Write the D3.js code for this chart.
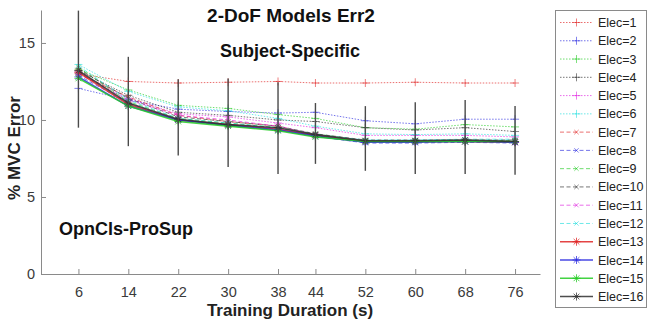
<!DOCTYPE html>
<html>
<head>
<meta charset="utf-8">
<script src="https://d3js.org/d3.v7.min.js"></script>
<style>
  body { margin: 0; background: #fff; }
  svg { font-family: "Liberation Sans", Arial, sans-serif; }
</style>
</head>
<body>
<svg width="648" height="320"></svg>
<script>
    var width = 648, height = 320;
    var margin = {top: 10, right: 108, bottom: 46, left: 41};

    // training durations (s)
    const durations = [6, 14, 22, 30, 38, 44, 52, 60, 68, 76];
    const yTicks = [0, 5, 10, 15];

    // % MVC error, one row per electrode count
    const elec1  = [13.0, 12.5, 12.4, 12.45, 12.5, 12.4, 12.4, 12.45, 12.4, 12.4];
    const elec2  = [12.05, 11.3, 10.7, 10.55, 10.45, 10.5, 9.95, 9.75, 10.05, 10.05];
    const elec3  = [13.3, 11.95, 10.95, 10.75, 10.35, 10.1, 9.5, 9.4, 9.7, 9.55];
    const elec4  = [13.2, 11.6, 10.5, 10.3, 10.0, 9.9, 9.5, 9.35, 9.5, 9.25];
    const elec5  = [13.1, 11.4, 10.4, 10.2, 9.8, 9.5, 9.0, 9.0, 9.0, 8.9];
    const elec6  = [13.6, 11.85, 10.85, 10.6, 10.1, 9.6, 9.1, 9.05, 9.1, 9.0];
    const elec7  = [13.0, 11.5, 10.3, 9.9, 9.6, 9.0, 8.6, 8.55, 8.6, 8.55];
    const elec8  = [12.9, 11.1, 10.0, 9.7, 9.4, 8.95, 8.5, 8.5, 8.55, 8.5];
    const elec9  = [13.4, 11.2, 10.1, 9.8, 9.5, 9.1, 8.65, 8.65, 8.7, 8.65];
    const elec10 = [13.3, 11.4, 10.2, 9.9, 9.6, 9.1, 8.7, 8.7, 8.7, 8.7];
    const elec11 = [13.0, 11.3, 10.3, 10.0, 9.6, 9.05, 8.6, 8.6, 8.65, 8.6];
    const elec12 = [13.5, 11.3, 10.1, 9.8, 9.5, 9.05, 8.7, 8.7, 8.75, 8.75];
    const elec13 = [13.1, 11.0, 10.0, 9.7, 9.4, 9.0, 8.6, 8.6, 8.6, 8.55];
    const elec14 = [12.8, 10.9, 10.0, 9.65, 9.35, 8.95, 8.55, 8.55, 8.6, 8.55];
    const elec15 = [12.7, 10.9, 9.9, 9.6, 9.3, 8.9, 8.6, 8.6, 8.6, 8.6];
    const elec16 = [13.2, 11.1, 10.05, 9.7, 9.5, 9.05, 8.65, 8.65, 8.7, 8.6];

    // error bar ends
    const errLow  = [9.5, 8.3, 7.7, 6.95, 6.5, 7.15, 6.7, 6.5, 6.5, 6.45];
    const errHigh = [17.1, 14.1, 12.65, 12.7, 12.45, 11.1, 10.9, 11.15, 11.3, 10.9];

    const seriesValues = [elec1, elec2, elec3, elec4, elec5, elec6, elec7, elec8,
        elec9, elec10, elec11, elec12, elec13, elec14, elec15, elec16];
    const seriesNames = seriesValues.map((d, i) => 'Elec=' + (i + 1));

    var colors = ['#e02424', '#2a2ae0', '#22cc22', '#303030', '#e022e0', '#22dede'];

    var series = seriesValues.map((vals, i) => ({
        name: seriesNames[i],
        values: vals,
        color: colors[i % 6],
        dash: i < 6 ? '1.5,1.5' : (i < 12 ? '4,2.5' : null),
        marker: i < 6 ? 'plus' : (i < 12 ? 'cross' : 'star'),
        lw: i < 12 ? 1 : 1.6,
        op: i < 12 ? 0.65 : 0.85
    }));

    function markerPath(type, s) {
        var p = d3.path();
        if (type == 'plus' || type == 'star') {
            p.moveTo(-s, 0); p.lineTo(s, 0);
            p.moveTo(0, -s); p.lineTo(0, s);
        }
        if (type == 'cross' || type == 'star') {
            var c = s * 0.72;
            p.moveTo(-c, -c); p.lineTo(c, c);
            p.moveTo(-c, c); p.lineTo(c, -c);
        }
        return p.toString();
    }

    var x = d3.scaleLinear().domain([0, 80]).range([margin.left, 540]);
    var y = d3.scaleLinear().domain([0, 17.14]).range([274, margin.top]);

    var svg = d3.select('svg');

    // axes
    var xAxis = svg.append('g')
        .attr('transform', `translate(0,${y(0)})`)
        .call(d3.axisBottom(x).tickValues(durations).tickSizeInner(-5).tickSizeOuter(0).tickPadding(13));
    var yAxis = svg.append('g')
        .attr('transform', `translate(${x(0)},0)`)
        .call(d3.axisLeft(y).tickValues(yTicks).tickSizeInner(-5).tickSizeOuter(0).tickPadding(6));
    [xAxis, yAxis].forEach(g => {
        g.select('.domain').attr('stroke', '#8a8a8a');
        g.selectAll('.tick line').attr('stroke', '#8a8a8a');
        g.selectAll('.tick text').attr('fill', '#3a3a3a').attr('font-size', 14.5)
            .attr('font-family', '"Liberation Sans", Arial, sans-serif');
    });

    var line = d3.line()
        .x((d, i) => x(durations[i]))
        .y(d => y(d));

    var lines = svg.append('g');
    series.forEach(s => {
        lines.append('path')
            .attr('d', line(s.values))
            .attr('fill', 'none')
            .attr('stroke', s.color)
            .attr('stroke-width', s.lw)
            .attr('stroke-dasharray', s.dash)
            .attr('opacity', s.op);
        lines.selectAll(null)
            .data(s.values)
            .join('path')
            .attr('transform', (d, i) => `translate(${x(durations[i])},${y(d)})`)
            .attr('d', markerPath(s.marker, s.marker == 'cross' ? 3 : 4))
            .attr('fill', 'none')
            .attr('stroke', s.color)
            .attr('stroke-width', 0.9)
            .attr('opacity', s.op);
    });

    // error bars
    svg.append('g')
        .selectAll('line')
        .data(durations)
        .join('line')
        .attr('x1', d => x(d)).attr('x2', d => x(d))
        .attr('y1', (d, i) => y(errLow[i]))
        .attr('y2', (d, i) => y(errHigh[i]))
        .attr('stroke', '#4a4a4a')
        .attr('stroke-width', 1.4);

    // texts
    svg.append('text')
        .attr('x', 291).attr('y', 22)
        .attr('text-anchor', 'middle')
        .attr('font-weight', 'bold').attr('font-size', 19)
        .attr('fill', '#111')
        .text('2-DoF Models Err2');
    svg.append('text')
        .attr('x', 290).attr('y', 57)
        .attr('text-anchor', 'middle')
        .attr('font-weight', 'bold').attr('font-size', 18)
        .attr('fill', '#111')
        .text('Subject-Specific');
    svg.append('text')
        .attr('x', 59).attr('y', 235)
        .attr('font-weight', 'bold').attr('font-size', 18)
        .attr('fill', '#111')
        .text('OpnCls-ProSup');
    svg.append('text')
        .attr('x', 290).attr('y', 316)
        .attr('text-anchor', 'middle')
        .attr('font-weight', 'bold').attr('font-size', 17)
        .attr('fill', '#222')
        .text('Training Duration (s)');
    svg.append('text')
        .attr('transform', 'translate(20,148) rotate(-90)')
        .attr('text-anchor', 'middle')
        .attr('font-weight', 'bold').attr('font-size', 17)
        .attr('fill', '#222')
        .text('% MVC Error');

    // legend
    var legend = svg.append('g');
    legend.append('rect')
        .attr('x', 555.5).attr('y', 10.5)
        .attr('width', 91).attr('height', 297)
        .attr('fill', '#fff')
        .attr('stroke', '#8a8a8a');
    var item = legend.selectAll('g.item')
        .data(series)
        .join('g')
        .attr('class', 'item')
        .attr('transform', (d, i) => `translate(0,${22.5 + i * 18.27})`);
    item.append('line')
        .attr('x1', 560).attr('x2', 593)
        .attr('stroke', d => d.color)
        .attr('stroke-width', d => d.lw)
        .attr('stroke-dasharray', d => d.dash)
        .attr('opacity', d => d.op);
    item.append('path')
        .attr('transform', 'translate(576.5,0)')
        .attr('d', d => markerPath(d.marker, d.marker == 'cross' ? 3 : 4))
        .attr('fill', 'none')
        .attr('stroke', d => d.color)
        .attr('stroke-width', 0.9)
        .attr('opacity', d => d.op);
    item.append('text')
        .attr('x', 598).attr('dy', '0.36em')
        .attr('font-size', 12.5)
        .attr('fill', '#222')
        .text(d => d.name);
</script>
</body>
</html>
